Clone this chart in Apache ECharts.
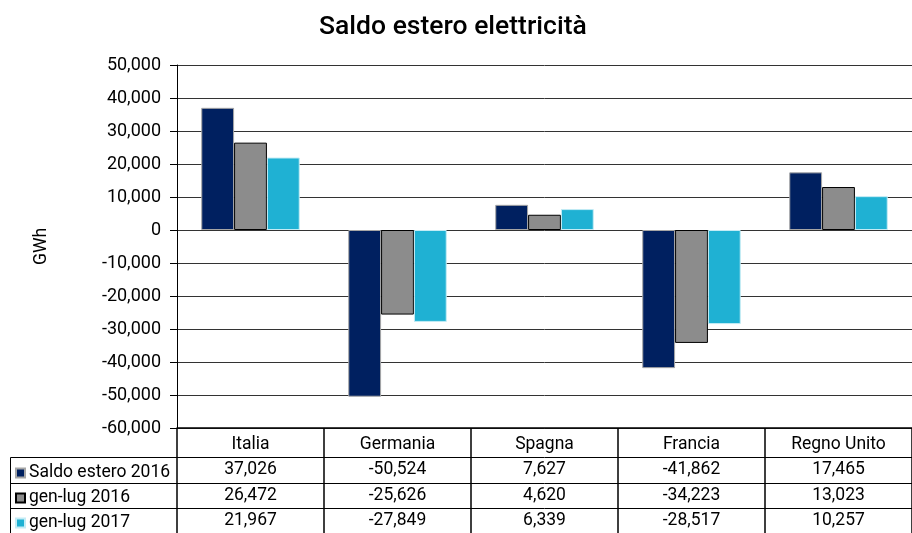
<!DOCTYPE html>
<html>
<head>
<meta charset="utf-8">
<script src="https://cdn.jsdelivr.net/npm/echarts@6/dist/echarts.min.js"></script>
<style>
html,body{margin:0;padding:0;background:#fff;}
#chart{width:912px;height:533px;}
</style>
</head>
<body>
<div id="chart"></div>
<script>
var categories = ['Italia', 'Germania', 'Spagna', 'Francia', 'Regno Unito'];
var seriesNames = ['Saldo estero 2016', 'gen-lug 2016', 'gen-lug 2017'];
var saldo2016 = [37026, -50524, 7627, -41862, 17465];
var genlug2016 = [26472, -25626, 4620, -34223, 13023];
var genlug2017 = [21967, -27849, 6339, -28517, 10257];
var seriesValues = [saldo2016, genlug2016, genlug2017];
var colors = ['#002060', '#8c8c8c', '#1fb1d3'];
var borderColors = ['#a6a6a6', '#000000', '#c4ecf5'];

function fmt(v) {
  var s = Math.abs(v).toString().replace(/\B(?=(\d{3})+(?!\d))/g, ',');
  return (v < 0 ? '-' : '') + s;
}

var FONT = 'Roboto';
var FS = 17.5;
var gridLeft = 177, gridTop = 65, gridBottom = 105;
var rowOffsets = [29, 55, 80];

var chart = echarts.init(document.getElementById('chart'));

var xAxes = [{
  type: 'category',
  data: categories,
  position: 'bottom',
  axisLine: { onZero: false, lineStyle: { color: '#000', width: 1.5 } },
  axisTick: { show: true, alignWithLabel: false, inside: false, length: 110, lineStyle: { color: '#000', width: 1.5 } },
  axisLabel: { margin: 8, color: '#000', fontFamily: FONT, fontSize: FS, interval: 0 },
  splitLine: { show: false }
}];
rowOffsets.forEach(function (off, i) {
  xAxes.push({
    type: 'category',
    data: seriesValues[i].map(fmt),
    position: 'bottom',
    offset: off,
    axisLine: { onZero: false, lineStyle: { color: '#000', width: 1 } },
    axisTick: { show: false },
    axisLabel: { margin: 4, color: '#000', fontFamily: FONT, fontSize: FS, interval: 0 },
    splitLine: { show: false }
  });
});

var legends = seriesNames.map(function (n, i) {
  return {
    data: [n],
    left: 15,
    top: 464 + i * 25,
    icon: 'rect',
    itemWidth: 9,
    itemHeight: 9,
    itemGap: 0,
    padding: 0,
    selectedMode: false,
    textStyle: { fontFamily: FONT, fontSize: FS, color: '#000', padding: [0, 0, 0, -1] }
  };
});

var series = seriesNames.map(function (n, i) {
  return {
    name: n,
    type: 'bar',
    data: seriesValues[i],
    xAxisIndex: 0,
    yAxisIndex: 0,
    barGap: '0%',
    barCategoryGap: '33%',
    itemStyle: { color: colors[i], borderColor: borderColors[i], borderWidth: 1 }
  };
});

var option = {
  backgroundColor: '#fff',
  animation: false,
  title: {
    text: 'Saldo estero elettricità',
    left: 314,
    top: 9,
    textStyle: { fontFamily: FONT, fontSize: 26.5, fontWeight: 500, color: '#000' }
  },
  legend: legends,
  grid: { left: gridLeft, right: 0, top: gridTop, bottom: gridBottom, containLabel: false },
  xAxis: xAxes,
  yAxis: {
    type: 'value',
    min: -60000,
    max: 50000,
    interval: 10000,
    name: 'GWh',
    nameLocation: 'middle',
    nameRotate: 90,
    nameGap: 126,
    nameTextStyle: { fontFamily: FONT, fontSize: FS, color: '#000' },
    axisLine: { show: true, lineStyle: { color: '#000', width: 1 } },
    axisTick: { show: true, inside: false, length: 7, lineStyle: { color: '#000' } },
    axisLabel: { margin: 16, color: '#000', fontFamily: FONT, fontSize: 18, formatter: fmt },
    splitLine: { show: true, lineStyle: { color: '#333', width: 1 } }
  },
  series: series,
  graphic: [
    { type: 'polyline', shape: { points: [[177, 457.5], [10.5, 457.5], [10.5, 540]] }, style: { stroke: '#000', lineWidth: 1, fill: null } },
    { type: 'line', shape: { x1: 10, y1: 483.5, x2: 177, y2: 483.5 }, style: { stroke: '#000', lineWidth: 1 } },
    { type: 'line', shape: { x1: 10, y1: 508.5, x2: 177, y2: 508.5 }, style: { stroke: '#000', lineWidth: 1 } }
  ]
};
chart.setOption(option);
</script>
</body>
</html>
